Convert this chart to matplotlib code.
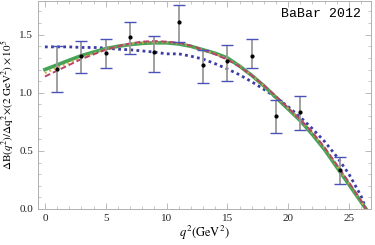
import numpy as np
import matplotlib
matplotlib.use('Agg')
import matplotlib.pyplot as plt
from matplotlib.ticker import MultipleLocator

# BaBar 2012 data points
q2 = [1, 3, 5, 7, 9, 11, 13, 15, 17, 19, 21, 24.3]
br = [1.204, 1.313, 1.345, 1.48, 1.347, 1.61, 1.241, 1.27, 1.316, 0.80, 0.836, 0.334]
br_hi = [1.40, 1.448, 1.463, 1.61, 1.49, 1.756, 1.37, 1.41, 1.463, 0.937, 0.974, 0.45]
br_lo = [1.01, 1.17, 1.21, 1.334, 1.18, 1.44, 1.086, 1.10, 1.21, 0.65, 0.678, 0.218]

# fitted curves
xc = [0, 1, 2, 3, 4, 5, 6, 7, 8, 9, 10, 11, 12, 13, 14, 15, 16, 17, 18, 19, 20,
      21, 22, 23, 24, 25, 26, 26.4]
green = [1.20, 1.24, 1.28, 1.32, 1.35, 1.38, 1.40, 1.415, 1.425, 1.43, 1.43, 1.42, 1.40,
         1.37, 1.34, 1.30, 1.23, 1.15, 1.06, 0.96, 0.86, 0.76, 0.64, 0.51, 0.36, 0.21, 0.06, 0.0]
red = [1.14, 1.19, 1.24, 1.29, 1.33, 1.37, 1.40, 1.425, 1.44, 1.445, 1.44, 1.43, 1.405,
       1.37, 1.33, 1.285, 1.225, 1.15, 1.065, 0.97, 0.87, 0.77, 0.66, 0.53, 0.38, 0.23, 0.07, 0.0]
orange = [1.17, 1.215, 1.26, 1.30, 1.34, 1.375, 1.40, 1.42, 1.43, 1.435, 1.435, 1.425, 1.40,
          1.37, 1.335, 1.29, 1.23, 1.15, 1.06, 0.965, 0.865, 0.765, 0.65, 0.52, 0.37, 0.22, 0.065, 0.0]
blue = [1.395, 1.395, 1.395, 1.39, 1.39, 1.385, 1.375, 1.37, 1.36, 1.35, 1.335, 1.335, 1.315,
        1.29, 1.25, 1.205, 1.155, 1.095, 1.03, 0.96, 0.88, 0.79, 0.69, 0.58, 0.45, 0.30, 0.11, 0.0]

plt.rcParams['font.family'] = ['Liberation Serif', 'DejaVu Serif']
plt.rcParams['mathtext.fontset'] = 'stix'

fig = plt.figure(figsize=(3.75, 2.45), dpi=100)
ax = fig.add_axes([0.101, 0.147, 0.888, 0.849])

ax.plot(xc, blue, color='#3c3ca8', lw=2.0, ls=(0, (1, 1.2)), zorder=3)
ax.plot(xc, green, color='#45a356', lw=2.6, zorder=4)
ax.plot(xc, orange, color='#d4a24a', lw=1.4, ls=(0, (1, 1.5)), zorder=5)
ax.plot(xc, red, color='#b8446c', lw=1.4, ls=(0, (3, 1.5)), zorder=5)

yerr = [np.subtract(br, br_lo), np.subtract(br_hi, br)]
ax.errorbar(q2, br, yerr=yerr, fmt='none', ecolor='#999999', elinewidth=1.3, capsize=0, zorder=6)
ax.plot(q2, br_hi, ls='none', marker='_', ms=8, mew=1.0, color='#4a52b8', zorder=7)
ax.plot(q2, br_lo, ls='none', marker='_', ms=8, mew=1.0, color='#4a52b8', zorder=7)
ax.plot(q2, br, ls='none', marker='o', ms=2.0, color='black', zorder=8)

ax.set_xlim(-0.58, 26.8)
ax.set_ylim(0, 1.79)
ax.xaxis.set_major_locator(MultipleLocator(5))
ax.xaxis.set_minor_locator(MultipleLocator(1))
ax.yaxis.set_major_locator(MultipleLocator(0.5))
ax.yaxis.set_minor_locator(MultipleLocator(0.1))
ax.set_yticks([0.0, 0.5, 1.0, 1.5])
ax.set_yticklabels(['0.0', '0.5', '1.0', '1.5'])
ax.tick_params(which='both', direction='in', top=True, right=True, color='#b0b0b0',
               labelsize=8, labelcolor='#222222')
ax.tick_params(which='major', length=4, width=0.6)
ax.tick_params(which='minor', length=2, width=0.5)
for s in ax.spines.values():
    s.set_color('#b0b0b0')
    s.set_linewidth(0.7)

ax.set_xlabel(r'$q^2(\mathrm{GeV}^2)$', fontsize=9, labelpad=1)
ax.set_ylabel(r'$\Delta\mathrm{B}(q^2)/\Delta\mathrm{q}^2\!\times\!(2\ \mathrm{GeV}^2)\times10^5$',
              fontsize=8, labelpad=2)

ax.text(0.97, 0.965, 'BaBar 2012', transform=ax.transAxes, ha='right', va='top',
        family='Liberation Mono', fontsize=9.5, color='black')

fig.savefig('out.png', dpi=100)
